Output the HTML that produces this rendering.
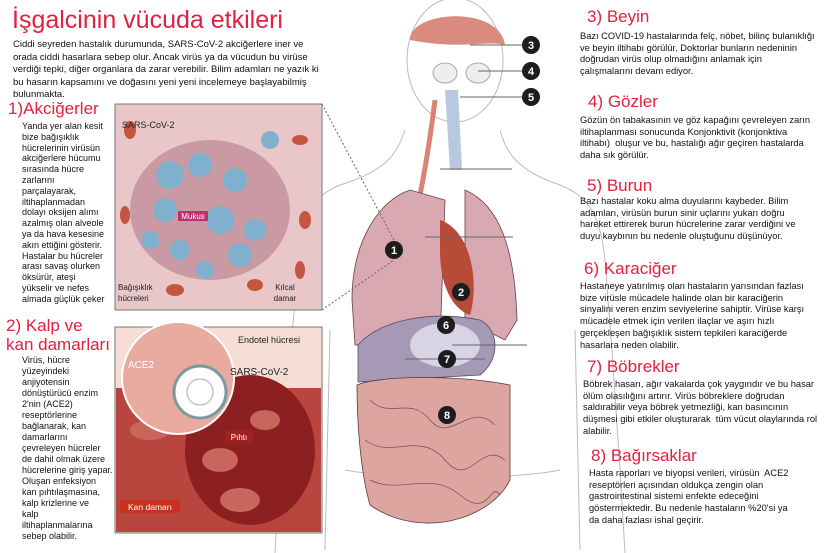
<!DOCTYPE html>
<html><head><meta charset="utf-8"><style>
body{margin:0;width:825px;height:553px;background:#fff;position:relative;overflow:hidden;font-family:"Liberation Sans",sans-serif;}
.t{position:absolute;color:#111;font-size:9.3px;line-height:11.7px;white-space:nowrap;}
.h{position:absolute;color:#e3203f;font-size:17px;line-height:19px;white-space:nowrap;}
svg{position:absolute;left:0;top:0}
</style></head><body>
<svg width="825" height="553" viewBox="0 0 825 553">
<g fill="none" stroke="#bbb" stroke-width="1">
<path d="M405,130 C398,150 390,170 340,185 C315,195 305,210 300,260 L290,350 L280,470 L275,553"/>
<path d="M500,130 C505,150 515,170 560,185 C585,195 600,210 605,260 L612,350 L620,470 L625,553"/>
<path d="M330,330 L325,550 M575,330 L580,550"/>
<path d="M345,470 C400,480 510,480 560,470"/>
</g>
<ellipse cx="455" cy="60" rx="48" ry="62" fill="#fff" stroke="#bbb"/>
<path d="M410,40 C410,10 500,5 505,45 C490,40 460,50 410,40Z" fill="#d98b80"/>
<ellipse cx="445" cy="73" rx="12" ry="10" fill="#eee" stroke="#aaa"/>
<ellipse cx="478" cy="73" rx="12" ry="10" fill="#eee" stroke="#aaa"/>
<path d="M445,90 L450,170 L462,170 L458,90Z" fill="#b9c8e0"/>
<path d="M435,100 C430,140 425,170 420,195" stroke="#d98474" stroke-width="5" fill="none"/>
<path d="M410,190 C380,200 352,240 352,300 L355,345 L440,345 L445,200Z" fill="#d9a9b1" stroke="#6a4048" stroke-width="0.8"/>
<path d="M465,190 C500,205 515,250 517,320 L505,340 L465,320 Z" fill="#d9a9b1" stroke="#6a4048" stroke-width="0.8"/>
<path d="M440,220 C470,230 480,280 470,315 C455,310 440,290 440,250Z" fill="#b84a38"/>
<path d="M358,345 C380,320 430,310 480,320 C500,330 500,360 480,375 L358,382Z" fill="#a699b5" stroke="#5a4a60" stroke-width="0.8"/>
<ellipse cx="445" cy="345" rx="35" ry="22" fill="#d8d4e6"/>
<path d="M357,385 C380,375 460,375 510,385 L510,480 C490,520 420,540 370,505 C360,470 357,420 357,385Z" fill="#dca5a0" stroke="#5a3a3a" stroke-width="0.8"/>
<g stroke="#7a4a4a" fill="none" stroke-width="0.7">
<path d="M370,400 C390,420 410,395 430,420 S470,400 495,425"/>
<path d="M365,440 C390,460 420,430 445,460 S480,440 505,460"/>
<path d="M370,480 C400,495 430,470 460,495 S490,480 500,495"/>
</g>
<g stroke="#666" stroke-width="1" fill="none">
<line x1="440" y1="169" x2="512" y2="169"/>
<line x1="425" y1="237" x2="513" y2="237"/>
<line x1="452" y1="345" x2="527" y2="345"/>
<line x1="405" y1="359" x2="485" y2="359"/>
<line x1="470" y1="45" x2="522" y2="45"/>
<line x1="478" y1="71" x2="522" y2="71"/>
<line x1="460" y1="97" x2="522" y2="97"/>
<line x1="322" y1="104" x2="394" y2="240" stroke-dasharray="2,2"/>
<line x1="322" y1="310" x2="394" y2="260" stroke-dasharray="2,2"/>
</g>
<g fill="#1d1d1d" font-family="Liberation Sans" font-weight="bold" font-size="11" text-anchor="middle">
<circle cx="531" cy="45" r="9"/><circle cx="531" cy="71" r="9"/><circle cx="531" cy="97" r="9"/>
<circle cx="394" cy="250" r="9"/><circle cx="461" cy="292" r="9"/><circle cx="446" cy="325" r="9"/>
<circle cx="447" cy="359" r="9"/><circle cx="447" cy="415" r="9"/>
<g fill="#fff"><text x="531" y="49">3</text><text x="531" y="75">4</text><text x="531" y="101">5</text>
<text x="394" y="254">1</text><text x="461" y="296">2</text><text x="446" y="329">6</text>
<text x="447" y="363">7</text><text x="447" y="419">8</text></g>
</g>
<rect x="115" y="104" width="207" height="206" fill="#e9c6c8" stroke="#777"/>
<ellipse cx="210" cy="210" rx="80" ry="70" fill="#c99aa3"/>
<g fill="#7fb1cf">
<circle cx="170" cy="175" r="14"/><circle cx="200" cy="165" r="12"/><circle cx="235" cy="180" r="12"/><circle cx="165" cy="210" r="12"/>
<circle cx="220" cy="220" r="14"/><circle cx="255" cy="230" r="11"/><circle cx="180" cy="250" r="10"/><circle cx="240" cy="255" r="12"/>
<circle cx="150" cy="240" r="9"/><circle cx="270" cy="140" r="9"/><circle cx="205" cy="270" r="9"/>
</g>
<g fill="#c4553f"><ellipse cx="130" cy="130" rx="6" ry="9"/><ellipse cx="300" cy="140" rx="8" ry="5"/><ellipse cx="125" cy="215" rx="5" ry="9"/><ellipse cx="305" cy="220" rx="6" ry="9"/><ellipse cx="175" cy="290" rx="9" ry="6"/><ellipse cx="255" cy="285" rx="8" ry="6"/><ellipse cx="300" cy="270" rx="5" ry="9"/></g>
<rect x="178" y="211" width="30" height="10" fill="#c0306a"/>
<text x="193" y="219" font-size="8" fill="#fff" text-anchor="middle" font-family="Liberation Sans">Mukus</text>
<text x="122" y="128" font-size="9" fill="#222" font-family="Liberation Sans">SARS-CoV-2</text>
<text x="118" y="290" font-size="8" fill="#222" font-family="Liberation Sans">Bağışıklık</text>
<text x="118" y="301" font-size="8" fill="#222" font-family="Liberation Sans">hücreleri</text>
<text x="285" y="290" font-size="8" fill="#222" font-family="Liberation Sans" text-anchor="middle">Kılcal</text>
<text x="285" y="301" font-size="8" fill="#222" font-family="Liberation Sans" text-anchor="middle">damar</text>
<rect x="115" y="327" width="207" height="206" fill="#f5ddd6" stroke="#777"/>
<rect x="116" y="388" width="205" height="144" fill="#b8463e"/>
<ellipse cx="250" cy="450" rx="65" ry="75" fill="#8c1f1f"/>
<g fill="#c8655c"><ellipse cx="150" cy="430" rx="20" ry="10"/><ellipse cx="220" cy="460" rx="18" ry="12"/><ellipse cx="265" cy="420" rx="15" ry="10"/><ellipse cx="240" cy="500" rx="20" ry="12"/></g>
<circle cx="178" cy="378" r="56" fill="#e9aaa0" stroke="#fff" stroke-width="2"/>
<circle cx="200" cy="392" r="26" fill="#fff" stroke="#7a9aa0" stroke-width="3"/>
<circle cx="200" cy="392" r="13" fill="#fff" stroke="#aaa"/>
<text x="128" y="368" font-size="10" fill="#fff" font-family="Liberation Sans">ACE2</text>
<text x="230" y="375" font-size="10" fill="#222" font-family="Liberation Sans">SARS-CoV-2</text>
<text x="238" y="343" font-size="9" fill="#222" font-family="Liberation Sans">Endotel hücresi</text>
<rect x="225" y="430" width="28" height="13" fill="#a0201f"/>
<text x="239" y="440" font-size="8" fill="#fff" text-anchor="middle" font-family="Liberation Sans">Pıhtı</text>
<rect x="120" y="500" width="60" height="13" fill="#c8321f"/>
<text x="150" y="510" font-size="8.5" fill="#fff" text-anchor="middle" font-family="Liberation Sans">Kan damarı</text>
</svg>

<div class="h" style="left:12px;top:6px;font-size:25px;line-height:28px">İşgalcinin vücuda etkileri</div>
<div class="t" style="left:13px;top:39px;line-height:12.5px;font-size:9.5px">Ciddi seyreden hastalık durumunda, SARS-CoV-2 akciğerlere iner ve<br>orada ciddi hasarlara sebep olur. Ancak virüs ya da vücudun bu virüse<br>verdiği tepki, diğer organlara da zarar verebilir. Bilim adamları ne yazık ki<br>bu hasarın kapsamını ve doğasını yeni yeni incelemeye başlayabilmiş<br>bulunmakta.</div>
<div class="h" style="left:8px;top:99px">1)Akciğerler</div>
<div class="t" style="left:22px;top:121px;line-height:10.8px;font-size:9px">Yanda yer alan kesit<br>bize bağışıklık<br>hücrelerinin virüsün<br>akciğerlere hücumu<br>sırasında hücre<br>zarlarını<br>parçalayarak,<br>iltihaplanmadan<br>dolayı oksijen alımı<br>azalmış olan alveole<br>ya da hava kesesine<br>akın ettiğini gösterir.<br>Hastalar bu hücreler<br>arası savaş olurken<br>öksürür, ateşi<br>yükselir ve nefes<br>almada güçlük çeker</div>
<div class="h" style="left:6px;top:316px">2) Kalp ve<br>kan damarları</div>
<div class="t" style="left:22px;top:355px;line-height:11px;font-size:9px">Virüs, hücre<br>yüzeyindeki<br>anjiyotensin<br>dönüştürücü enzim<br>2'nin (ACE2)<br>reseptörlerine<br>bağlanarak, kan<br>damarlarını<br>çevreleyen hücreler<br>de dahil olmak üzere<br>hücrelerine giriş yapar.<br>Oluşan enfeksiyon<br>kan pıhtılaşmasına,<br>kalp krizlerine ve<br>kalp<br>iltihaplanmalarına<br>sebep olabilir.</div>

<div class="h" style="left:587px;top:7px">3) Beyin</div>
<div class="t" style="left:580px;top:31px">Bazı COVID-19 hastalarında felç, nöbet, bilinç bulanıklığı<br>ve beyin iltihabı görülür. Doktorlar bunların nedeninin<br>doğrudan virüs olup olmadığını anlamak için<br>çalışmalarını devam ediyor.</div>
<div class="h" style="left:588px;top:92px">4) Gözler</div>
<div class="t" style="left:580px;top:115px">Gözün ön tabakasının ve göz kapağını çevreleyen zarın<br>iltihaplanması sonucunda Konjonktivit (konjonktiva<br>iltihabı)&nbsp; oluşur ve bu, hastalığı ağır geçiren hastalarda<br>daha sık görülür.</div>
<div class="h" style="left:587px;top:176px">5) Burun</div>
<div class="t" style="left:580px;top:196px">Bazı hastalar koku alma duyularını kaybeder. Bilim<br>adamları, virüsün burun sinir uçlarını yukarı doğru<br>hareket ettirerek burun hücrelerine zarar verdiğini ve<br>duyu kaybının bu nedenle oluştuğunu düşünüyor.</div>
<div class="h" style="left:584px;top:259px">6) Karaciğer</div>
<div class="t" style="left:580px;top:281px">Hastaneye yatırılmış olan hastaların yarısından fazlası<br>bize virüsle mücadele halinde olan bir karaciğerin<br>sinyalini veren enzim seviyelerine sahiptir. Virüse karşı<br>mücadele etmek için verilen ilaçlar ve aşırı hızlı<br>gerçekleşen bağışıklık sistem tepkileri karaciğerde<br>hasarlara neden olabilir.</div>
<div class="h" style="left:587px;top:357px">7) Böbrekler</div>
<div class="t" style="left:583px;top:379px">Böbrek hasarı, ağır vakalarda çok yaygındır ve bu hasar<br>ölüm olasılığını artırır. Virüs böbreklere doğrudan<br>saldırabilir veya böbrek yetmezliği, kan basıncının<br>düşmesi gibi etkiler oluşturarak&nbsp; tüm vücut olaylarında rol<br>alabilir.</div>
<div class="h" style="left:591px;top:446px">8) Bağırsaklar</div>
<div class="t" style="left:589px;top:468px">Hasta raporları ve biyopsi verileri, virüsün&nbsp; ACE2<br>reseptörleri açısından oldukça zengin olan<br>gastrointestinal sistemi enfekte edeceğini<br>göstermektedir. Bu nedenle hastaların %20'si ya<br>da daha fazlası ishal geçirir.</div>
</body></html>
